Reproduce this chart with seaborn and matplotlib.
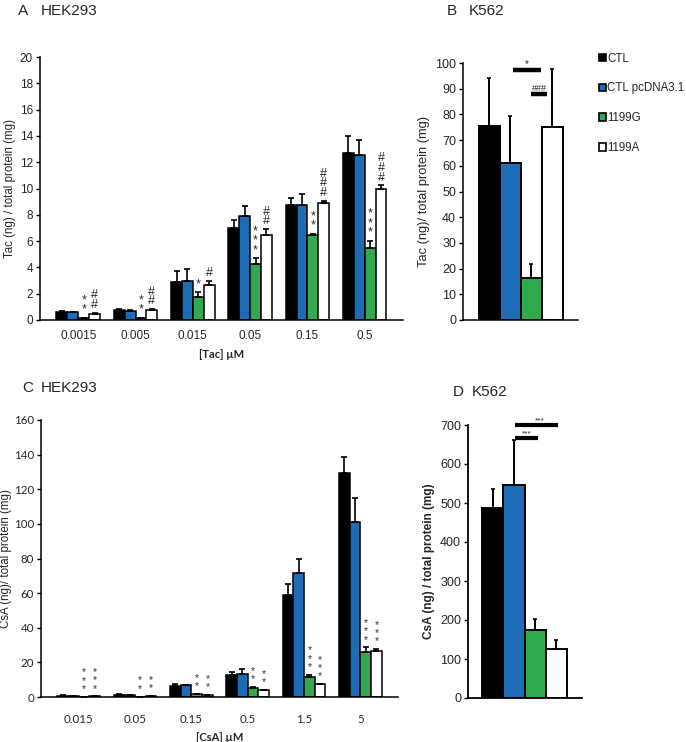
import matplotlib
matplotlib.use("Agg")
import matplotlib.pyplot as plt
from matplotlib.patches import Patch
import seaborn as sns
import pandas as pd

sns.set_theme(style="ticks")
plt.rcParams['font.family'] = ['Liberation Sans', 'DejaVu Sans']

groups = ["CTL", "CTL pcDNA3.1", "1199G", "1199A"]
colors = ["#000000", "#1c6db6", "#31a94f", "#ffffff"]

# Panel A: HEK293, Tac
tac_conc = ["0.0015", "0.005", "0.015", "0.05", "0.15", "0.5"]
tac_ctl = [0.60, 0.75, 2.90, 6.96, 8.76, 12.73]
tac_ctl_err = [0.05, 0.08, 0.85, 0.65, 0.48, 1.24]
tac_pc = [0.58, 0.70, 3.00, 7.90, 8.78, 12.53]
tac_pc_err = [0.04, 0.04, 0.85, 0.78, 0.82, 1.14]
tac_g = [0.15, 0.15, 1.77, 4.25, 6.50, 5.47]
tac_g_err = [0.02, 0.02, 0.33, 0.43, 0.05, 0.56]
tac_a = [0.45, 0.75, 2.65, 6.45, 8.90, 10.00]
tac_a_err = [0.07, 0.06, 0.35, 0.45, 0.14, 0.23]
tac_g_sig = ["*\n*", "*\n*", "*", "*\n*\n*", "*\n*", "*\n*\n*"]
tac_a_sig = ["#\n#", "#\n#", "#", "#\n#", "#\n#\n#", "#\n#\n#"]

# Panel B: K562, Tac
k_tac = [75.5, 61.0, 16.5, 75.1]
k_tac_err = [18.7, 18.3, 5.2, 22.6]

# Panel C: HEK293, CsA
csa_conc = ["0.015", "0.05", "0.15", "0.5", "1.5", "5"]
csa_ctl = [0.6, 1.3, 6.2, 12.5, 58.8, 129.6]
csa_ctl_err = [0.3, 0.5, 1.5, 2.1, 6.6, 9.2]
csa_pc = [0.5, 1.2, 6.7, 13.5, 71.5, 101.3]
csa_pc_err = [0.1, 0.2, 0.3, 2.6, 8.1, 13.7]
csa_g = [0.1, 0.2, 1.7, 5.2, 11.5, 25.8]
csa_g_err = [0.05, 0.05, 0.2, 0.6, 1.4, 2.8]
csa_a = [0.3, 0.6, 1.3, 3.9, 7.3, 26.3]
csa_a_err = [0.05, 0.05, 0.1, 0.2, 0.2, 1.4]
csa_g_sig = ["*\n*\n*", "*\n*", "*\n*", "*\n*", "*\n*\n*", "*\n*\n*"]
csa_a_sig = ["*\n*\n*", "*\n*", "*\n*", "*\n*", "*\n*\n*", "*\n*\n*"]

# Panel D: K562, CsA
k_csa = [488, 547, 174, 125]
k_csa_err = [47, 114, 28, 25]

W, H = 686, 742
fig = plt.figure(figsize=(W / 100, H / 100), dpi=100)


def ax_at(l, r, t, b):
    return fig.add_axes([l / W, 1 - b / H, (r - l) / W, (b - t) / H])


def style(ax, lw=1.1):
    sns.despine(ax=ax)
    for s in ["left", "bottom"]:
        ax.spines[s].set_linewidth(lw)
        ax.spines[s].set_color("black")
    ax.tick_params(axis="y", length=3, width=1, color="black", pad=2)
    ax.tick_params(axis="x", length=0, pad=7)
    ax.set_xlabel("")


def grouped(ax, conc, series, errs, width):
    rows = []
    for g, vals in zip(groups, series):
        for c, v in zip(conc, vals):
            rows.append({"conc": c, "group": g, "val": v})
    df = pd.DataFrame(rows)
    sns.barplot(data=df, x="conc", y="val", hue="group", order=conc,
                hue_order=groups, palette=colors, edgecolor="black",
                linewidth=1.1, width=width, errorbar=None, legend=False,
                gap=0, saturation=1, ax=ax)
    for cont, vals, er in zip(ax.containers, series, errs):
        xs = [b.get_x() + b.get_width() / 2 for b in cont]
        ax.errorbar(xs, vals, yerr=[[0] * len(vals), er], fmt="none",
                    ecolor="black", elinewidth=1.2, capsize=2.5,
                    capthick=1.2, zorder=1)
    return ax.containers


def single(ax, vals, errs):
    df = pd.DataFrame({"group": groups, "val": vals})
    sns.barplot(data=df, x="group", y="val", hue="group", order=groups,
                hue_order=groups, palette=colors, edgecolor="black",
                linewidth=1.4, width=1.0, errorbar=None, legend=False,
                saturation=1, ax=ax)
    xs = []
    for cont in ax.containers:
        for b in cont:
            xs.append(b.get_x() + b.get_width() / 2)
    ax.errorbar(xs, vals, yerr=[[0] * 4, errs], fmt="none", ecolor="black",
                elinewidth=1.4, capsize=1.5, capthick=1.2, zorder=1)
    return xs


# ---------- Panel A ----------
axA = ax_at(40, 403, 57, 320)
cont = grouped(axA, tac_conc, [tac_ctl, tac_pc, tac_g, tac_a],
               [tac_ctl_err, tac_pc_err, tac_g_err, tac_a_err], 0.76)
axA.set_ylim(0, 20)
axA.set_yticks(range(0, 21, 2))
style(axA)
axA.tick_params(axis="both", labelsize=8.5)
axA.set_ylabel("Tac (ng) / total protein (mg)", fontsize=8.3, labelpad=3)
axA.set_xlabel("[Tac] µM", fontsize=8, fontweight="bold", labelpad=5,
               family=["Lato", "DejaVu Sans"])
for ci, sigs, vals, er in [(2, tac_g_sig, tac_g, tac_g_err),
                           (3, tac_a_sig, tac_a, tac_a_err)]:
    for b, s, v, e in zip(cont[ci], sigs, vals, er):
        axA.text(b.get_x() + b.get_width() / 2, v + e + 0.15, s,
                 ha="center", va="bottom", fontsize=9, linespacing=0.75)

# ---------- Panel B ----------
axB = ax_at(463, 578, 63, 320)
xsB = single(axB, k_tac, k_tac_err)
axB.set_xlim(-0.5 - 0.76, 3.5 + 0.72)
axB.set_ylim(0, 100)
axB.set_yticks(range(0, 101, 10))
style(axB)
axB.set_xticks([])
axB.tick_params(axis="y", labelsize=9)
axB.set_ylabel("Tac (ng)/ total protein (mg)", fontsize=9.3, labelpad=4)
axB.plot([xsB[1] + 0.1, xsB[2] + 0.45], [97.4, 97.4], color="black", lw=3.2,
         solid_capstyle="butt")
axB.text((xsB[1] + xsB[2]) / 2 + 0.28, 97.6, "*", ha="center", va="bottom",
         fontsize=7)
axB.plot([xsB[2] + 0.0, xsB[3] - 0.25], [88.1, 88.1], color="black", lw=3.2,
         solid_capstyle="butt")
axB.text((xsB[2] + xsB[3]) / 2 - 0.12, 88.5, "###", ha="center", va="bottom",
         fontsize=6.5)

# ---------- Legend ----------
handles = [Patch(facecolor=c, edgecolor="black", linewidth=1.2) for c in colors]
fig.legend(handles, groups, loc="upper left",
           bbox_to_anchor=(594 / W, 1 - 48 / H), frameon=False,
           handlelength=0.65, handleheight=0.65, handletextpad=0.12,
           labelspacing=1.55, fontsize=8.3, borderaxespad=0)

# ---------- Panel C ----------
axC = ax_at(41, 398, 420, 697)
contC = grouped(axC, csa_conc, [csa_ctl, csa_pc, csa_g, csa_a],
                [csa_ctl_err, csa_pc_err, csa_g_err, csa_a_err], 0.76)
axC.set_ylim(0, 160)
axC.set_yticks(range(0, 161, 20))
style(axC)
axC.tick_params(axis="both", labelsize=8.3)
for lab in axC.get_xticklabels() + axC.get_yticklabels():
    lab.set_family(["Lato", "DejaVu Sans"])
axC.tick_params(axis="x", pad=12)
axC.set_ylabel("CsA (ng)/ total protein (mg)", fontsize=8.3, labelpad=1)
axC.set_xlabel("[CsA] µM", fontsize=8, fontweight="bold", labelpad=5,
               family=["Lato", "DejaVu Sans"])
for ci, sigs, vals, er in [(2, csa_g_sig, csa_g, csa_g_err),
                           (3, csa_a_sig, csa_a, csa_a_err)]:
    for b, s, v, e in zip(contC[ci], sigs, vals, er):
        axC.text(b.get_x() + b.get_width() / 2, v + e + 1.5, s,
                 ha="center", va="bottom", fontsize=7.5, linespacing=0.8,
                 color="#333333")

# ---------- Panel D ----------
axD = ax_at(468, 582, 425, 698)
xsD = single(axD, k_csa, k_csa_err)
axD.set_xlim(-0.5 - 0.67, 3.5 + 0.71)
axD.set_ylim(0, 700)
axD.set_yticks(range(0, 701, 100))
style(axD, lw=1.3)
axD.set_xticks([])
axD.tick_params(axis="y", labelsize=9)
axD.set_ylabel("CsA (ng) / total protein (mg)", fontsize=8.5,
               fontweight="bold", labelpad=4)
axD.plot([xsD[1] + 0.05, xsD[3] + 0.1], [699, 699], color="black", lw=3,
         solid_capstyle="butt", clip_on=False)
axD.text((xsD[1] + xsD[3]) / 2 + 0.2, 701, "***", ha="center", va="bottom",
         fontsize=6)
axD.plot([xsD[1] + 0.05, xsD[2] + 0.15], [667, 667], color="black", lw=3,
         solid_capstyle="butt")
axD.text((xsD[1] + xsD[2]) / 2 + 0.1, 669, "***", ha="center", va="bottom",
         fontsize=6)

# ---------- Panel titles ----------
for letter, lx, name, nx, y in [("A", 18, "HEK293", 41, 11),
                                ("B", 447, "K562", 469, 11),
                                ("C", 22, "HEK293", 41, 388),
                                ("D", 453, "K562", 472, 392)]:
    fig.text(lx / W, 1 - y / H, letter, fontsize=11, va="center", ha="left")
    fig.text(nx / W, 1 - y / H, name, fontsize=11, va="center", ha="left")

fig.savefig("out.png", dpi=100)
